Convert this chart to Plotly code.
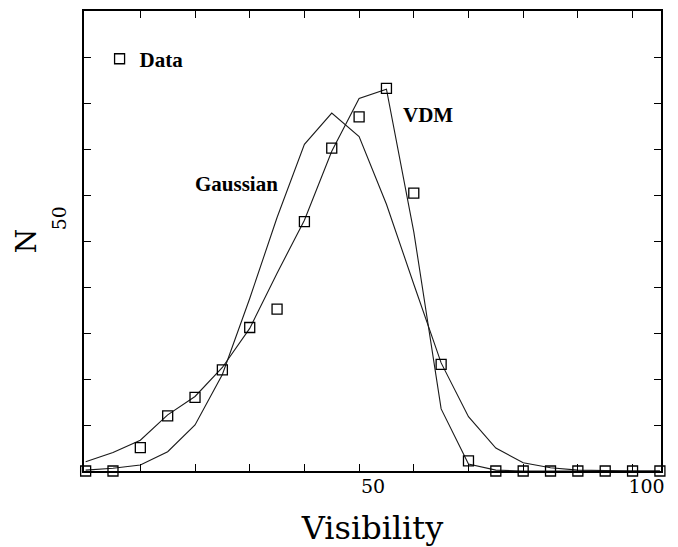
import plotly.graph_objects as go

visibility = [0, 5, 10, 15, 20, 25, 30, 35, 40, 45, 50, 55, 60, 65, 70, 75, 80, 85, 90, 95, 100, 105]
data_n = [0, 0, 5.1, 12.0, 16.0, 22.0, 31.2, 35.2, 54.2, 70.2, 77.0, 83.2, 60.4, 23.2, 2.2, 0, 0, 0, 0, 0, 0, 0]
vdm_n = [2.0, 4.0, 6.7, 12.2, 16.2, 22.5, 31.0, 43.0, 54.5, 69.5, 81.0, 83.0, 52.0, 13.5, 1.5, 0.2, 0, 0, 0, 0, 0, 0]
gauss_n = [0.2, 0.6, 1.3, 4.2, 10.0, 21.0, 37.5, 55.1, 71.0, 77.8, 72.7, 58.0, 40.6, 23.5, 11.8, 5.0, 1.8, 0.7, 0.2, 0.05, 0, 0]

x_tickvals = [10, 20, 30, 40, 50, 60, 70, 80, 90, 100]
x_ticktext = ["", "", "", "", "50", "", "", "", "", "100"]
y_tickvals = [10, 20, 30, 40, 50, 60, 70, 80, 90]
y_ticktext = ["", "", "", "", "50", "", "", "", ""]

fig = go.Figure()
fig.add_trace(go.Scatter(x=visibility, y=gauss_n, mode="lines", name="Gaussian",
                         line=dict(color="#1a1a1a", width=1.1), showlegend=False, cliponaxis=False))
fig.add_trace(go.Scatter(x=visibility, y=vdm_n, mode="lines", name="VDM",
                         line=dict(color="#1a1a1a", width=1.1), showlegend=False, cliponaxis=False))
fig.add_trace(go.Scatter(x=visibility, y=data_n, mode="markers", name="<b>Data</b>",
                         marker=dict(symbol="square-open", size=10, color="black", line=dict(width=1.3)),
                         showlegend=True, cliponaxis=False))

fig.add_annotation(x=27.6, y=62.5, text="<b>Gaussian</b>", showarrow=False, xref="x", yref="y",
                   font=dict(family="Liberation Serif", size=21, color="black"))
fig.add_annotation(x=62.6, y=77.3, text="<b>VDM</b>", showarrow=False, xref="x", yref="y",
                   font=dict(family="Liberation Serif", size=21, color="black"))

axis_common = dict(showline=True, linecolor="black", linewidth=1.5, mirror="ticks",
                   ticks="inside", ticklen=7, tickwidth=1.2, tickcolor="black",
                   showgrid=False, zeroline=False)

fig.update_xaxes(range=[-0.3, 105.2], tickmode="array", tickvals=x_tickvals, ticktext=x_ticktext,
                 tickfont=dict(family="DejaVu Serif", size=19, color="black"),
                 ticklabelshift=14, ticklabelstandoff=-3,
                 title=dict(text="Visibility", font=dict(family="DejaVu Serif", size=32, color="black"), standoff=23),
                 **axis_common)
fig.update_yaxes(range=[0, 100], tickmode="array", tickvals=y_tickvals, ticktext=y_ticktext,
                 tickfont=dict(family="DejaVu Serif", size=19, color="black"), tickangle=-90,
                 ticklabelshift=-20, ticklabelstandoff=9,
                 title=dict(text="N", font=dict(family="DejaVu Serif", size=28, color="black"), standoff=3),
                 **axis_common)

fig.update_layout(
    width=678, height=547,
    margin=dict(l=84, r=17, t=11, b=76, autoexpand=False),
    paper_bgcolor="white", plot_bgcolor="white",
    legend=dict(x=0.027, y=0.94, xanchor="left", yanchor="top", bgcolor="rgba(0,0,0,0)",
                font=dict(family="Liberation Serif", size=21, color="black"), itemsizing="trace"),
)

fig.write_html("out.html")
